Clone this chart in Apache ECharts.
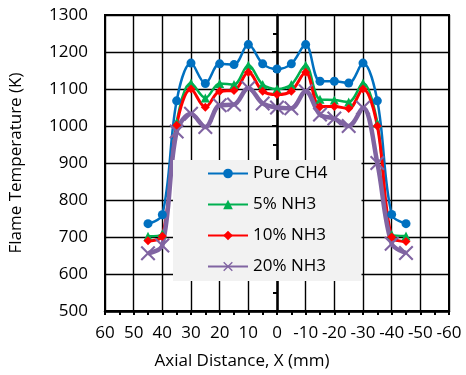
<!DOCTYPE html>
<html>
<head>
<meta charset="utf-8">
<script src="https://cdn.jsdelivr.net/npm/echarts@6/dist/echarts.min.js"></script>
<style>
html,body{margin:0;padding:0;background:#fff;}
#c{width:466px;height:375px;}
</style>
</head>
<body>
<div id="c"></div>
<script>
const xPos = [45, 40, 35, 30, 25, 20, 15, 10, 5, 0, -5, -10, -15, -20, -25, -30, -35, -40, -45];
const pureCH4 = [736, 760, 1068, 1170, 1115, 1168, 1166, 1220, 1168, 1154, 1168, 1220, 1121, 1121, 1116, 1170, 1068, 761, 736];
const nh3_5 = [702, 709, 1010, 1116, 1076, 1115, 1112, 1164, 1112, 1100, 1112, 1164, 1072, 1070, 1065, 1116, 1008, 707, 703];
const nh3_10 = [690, 702, 1002, 1100, 1051, 1094, 1096, 1145, 1094, 1085, 1094, 1145, 1052, 1053, 1047, 1100, 1000, 700, 688];
const nh3_20 = [656, 677, 985, 1033, 997, 1056, 1058, 1103, 1061, 1050, 1048, 1094, 1031, 1020, 1000, 1049, 900, 682, 657];
const seriesNames = ['Pure CH4', '5% NH3', '10% NH3', '20% NH3'];

const pair = arr => xPos.map((x, i) => [x, arr[i]]);
const FONT = '"Open Sans", sans-serif';
const crossPath = 'path://M0,1 L1,0 L5,4 L9,0 L10,1 L6,5 L10,9 L9,10 L5,6 L1,10 L0,9 L4,5 Z';

const chart = echarts.init(document.getElementById('c'), null, {renderer: 'canvas'});
chart.setOption({
  animation: false,
  backgroundColor: '#fff',
  grid: {left: 104, right: 17, top: 15, bottom: 64, show: true, borderColor: '#000', borderWidth: 2},
  legend: {
    orient: 'vertical',
    left: 173, top: 160,
    padding: [5, 34, 6, 34],
    backgroundColor: '#f2f2f2',
    itemWidth: 40, itemHeight: 12, itemGap: 14,
    textStyle: {fontFamily: FONT, fontSize: 17, color: '#000'},
    data: seriesNames
  },
  xAxis: {
    type: 'value', min: -60, max: 60, interval: 10, inverse: true,
    axisLine: {show: true, lineStyle: {color: '#000', width: 2.5}},
    axisTick: {show: true, inside: false, length: 4, lineStyle: {color: '#000', width: 2}},
    minorTick: {show: true, splitNumber: 2, length: 4, lineStyle: {color: '#000', width: 2}},
    splitLine: {show: true, lineStyle: {color: '#000', width: 1.4}},
    axisLabel: {fontFamily: FONT, fontSize: 17, color: '#000', margin: 14, formatter: v => String(v)}
  },
  yAxis: {
    type: 'value', min: 500, max: 1300, interval: 100,
    name: 'Flame Temperature (K)', nameLocation: 'middle', nameGap: 80,
    nameTextStyle: {fontFamily: FONT, fontSize: 17, color: '#000'},
    axisLine: {show: true, lineStyle: {color: '#000', width: 2.5}},
    axisTick: {show: true, inside: false, length: 5, lineStyle: {color: '#000', width: 2}},
    minorTick: {show: true, splitNumber: 2, length: 4, lineStyle: {color: '#000', width: 2}},
    splitLine: {show: true, lineStyle: {color: '#000', width: 1.4}},
    axisLabel: {fontFamily: FONT, fontSize: 17, color: '#000', margin: 17, formatter: v => String(v)}
  },
  graphic: [{
    type: 'text', x: 242, y: 361,
    style: {text: 'Axial Distance, X (mm)', font: '17px "Open Sans", sans-serif', fill: '#000', textAlign: 'center', textVerticalAlign: 'middle'}
  }],
  series: [
    {name: seriesNames[0], type: 'line', data: pair(pureCH4), smooth: 0.35, color: '#0070C0',
     symbol: 'circle', symbolSize: 9, lineStyle: {width: 2.5}},
    {name: seriesNames[1], type: 'line', data: pair(nh3_5), smooth: 0.35, color: '#00B050',
     symbol: 'triangle', symbolSize: 9, lineStyle: {width: 2.5}},
    {name: seriesNames[2], type: 'line', data: pair(nh3_10), smooth: 0.35, color: '#FF0000',
     symbol: 'diamond', symbolSize: 9, lineStyle: {width: 3}},
    {name: seriesNames[3], type: 'line', data: pair(nh3_20), smooth: 0.35, color: '#8064A2',
     symbol: crossPath, symbolSize: 15, lineStyle: {width: 4.5}}
  ]
});
</script>
</body>
</html>
